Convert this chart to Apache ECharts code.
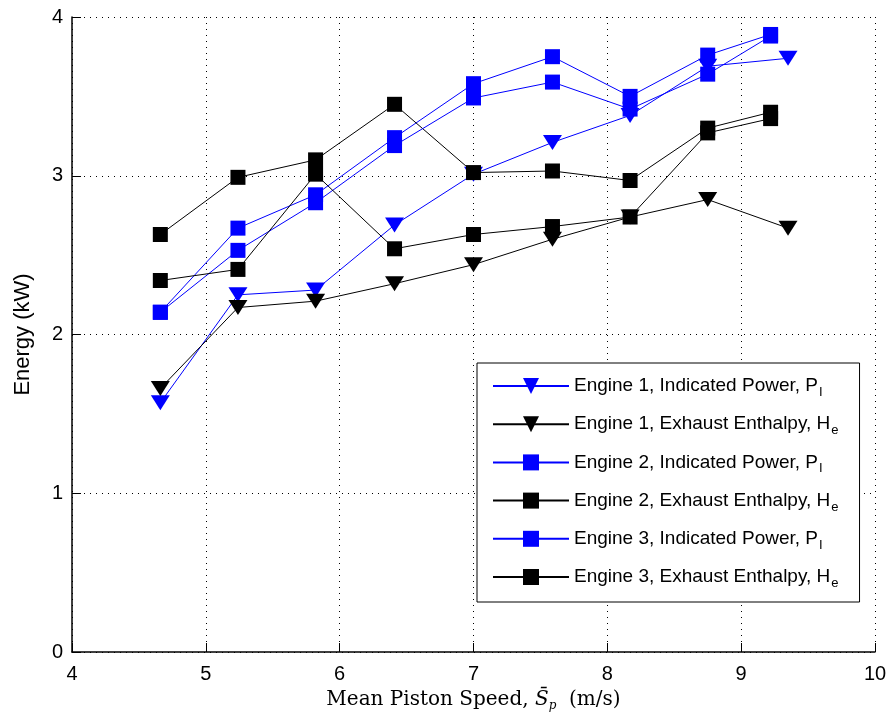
<!DOCTYPE html>
<html>
<head>
    <meta charset="utf-8">
    <title>Energy vs Mean Piston Speed</title>
    <script src="https://cdn.jsdelivr.net/npm/echarts@6/dist/echarts.min.js"></script>
</head>
<body style="margin:0;background:#fff;">
    <div id="demo" style="width: 891px;height:725px;"></div>
    <script type="text/javascript">
        // piston speeds (m/s)
        var speedEngine1 = [4.66, 5.24, 5.82, 6.41, 7.0, 7.59, 8.17, 8.75, 9.35];
        var speedEngine23 = [4.66, 5.24, 5.82, 6.41, 7.0, 7.59, 8.17, 8.75, 9.22];

        // energy (kW)
        var e1Power = [1.57, 2.25, 2.28, 2.69, 3.01, 3.21, 3.38, 3.69, 3.74];
        var e1Enthalpy = [1.66, 2.17, 2.21, 2.32, 2.44, 2.60, 2.74, 2.85, 2.67];
        var e2Power = [2.14, 2.67, 2.88, 3.24, 3.58, 3.75, 3.50, 3.76, 3.89];
        var e2Enthalpy = [2.63, 2.99, 3.10, 3.45, 3.02, 3.03, 2.97, 3.30, 3.40];
        var e3Power = [2.14, 2.53, 2.83, 3.19, 3.49, 3.59, 3.42, 3.64, 3.88];
        var e3Enthalpy = [2.34, 2.41, 3.01, 2.54, 2.63, 2.68, 2.74, 3.27, 3.36];

        var names = [
            'Engine 1, Indicated Power, ',
            'Engine 1, Exhaust Enthalpy, ',
            'Engine 2, Indicated Power, ',
            'Engine 2, Exhaust Enthalpy, ',
            'Engine 3, Indicated Power, ',
            'Engine 3, Exhaust Enthalpy, '
        ];

        function pairs(xs, ys) {
            return ys.map(function (y, i) { return [xs[i], y]; });
        }

        function makeSeries(name, xs, ys, color, tri) {
            return {
                name: name,
                type: 'line',
                data: pairs(xs, ys),
                symbol: tri ? 'triangle' : 'rect',
                symbolSize: tri ? [19, 15] : 15,
                symbolRotate: tri ? 180 : 0,
                showAllSymbol: true,
                lineStyle: { color: color, width: 1 },
                itemStyle: { color: color },
                emphasis: { disabled: true },
                animation: false
            };
        }

        var chart = echarts.init(document.getElementById('demo'));

        var gridLine = { show: true, lineStyle: { color: '#000', type: [1, 5], width: 1 } };

        var option = {
            backgroundColor: '#fff',
            animation: false,
            grid: { left: 72, right: 16, top: 17, bottom: 73 },
            xAxis: {
                type: 'value',
                min: 4, max: 10, interval: 1,
                name: '{t|Mean Piston Speed, }{s|S\u0304}{p|p}{t|  (m/s)}',
                nameLocation: 'middle',
                nameGap: 37,
                nameTextStyle: {
                    rich: {
                        t: { fontFamily: 'DejaVu Serif', fontSize: 20, color: '#000', lineHeight: 22 },
                        s: { fontFamily: 'DejaVu Serif', fontStyle: 'italic', fontSize: 20, color: '#000', lineHeight: 22 },
                        p: { fontFamily: 'DejaVu Serif', fontStyle: 'italic', fontSize: 12, color: '#000', lineHeight: 22, padding: [11, 0, 0, 0], verticalAlign: 'top' }
                    }
                },
                axisLine: { lineStyle: { color: '#000', width: 1.5 } },
                axisTick: { inside: true, length: 9, lineStyle: { color: '#000' } },
                axisLabel: { color: '#000', fontSize: 20, fontFamily: 'Liberation Sans', margin: 12 },
                splitLine: gridLine
            },
            yAxis: {
                type: 'value',
                min: 0, max: 4, interval: 1,
                name: 'Energy (kW)',
                nameLocation: 'middle',
                nameGap: 38,
                nameTextStyle: { color: '#000', fontSize: 22, fontFamily: 'Liberation Sans' },
                axisLine: { show: true, lineStyle: { color: '#000', width: 1.5 } },
                axisTick: { show: true, inside: true, length: 9, lineStyle: { color: '#000' } },
                axisLabel: { color: '#000', fontSize: 20, fontFamily: 'Liberation Sans', margin: 9 },
                splitLine: gridLine
            },
            legend: {
                left: 477,
                top: 363,
                orient: 'vertical',
                backgroundColor: '#fff',
                borderColor: '#000',
                borderWidth: 1,
                padding: [13, 21, 12, 15],
                itemWidth: 76,
                itemHeight: 20,
                itemGap: 15.2,
                symbolRotate: 'inherit',
                selectedMode: false,
                formatter: function (name) {
                    var power = name.indexOf('Power') >= 0;
                    return '{t|' + name + (power ? 'P' : 'H') + '}{s|' + (power ? 'I' : 'e') + '}';
                },
                textStyle: {
                    rich: {
                        t: { fontFamily: 'Liberation Sans', fontSize: 19, color: '#000', lineHeight: 20 },
                        s: { fontFamily: 'Liberation Sans', fontSize: 13, color: '#000', lineHeight: 20, padding: [10, 0, 0, 1], verticalAlign: 'top' }
                    }
                },
                data: names
            },
            series: [
                makeSeries(names[0], speedEngine1, e1Power, '#0000ff', true),
                makeSeries(names[1], speedEngine1, e1Enthalpy, '#000000', true),
                makeSeries(names[2], speedEngine23, e2Power, '#0000ff', false),
                makeSeries(names[3], speedEngine23, e2Enthalpy, '#000000', false),
                makeSeries(names[4], speedEngine23, e3Power, '#0000ff', false),
                makeSeries(names[5], speedEngine23, e3Enthalpy, '#000000', false)
            ]
        };

        chart.setOption(option);
    </script>
</body>
</html>
